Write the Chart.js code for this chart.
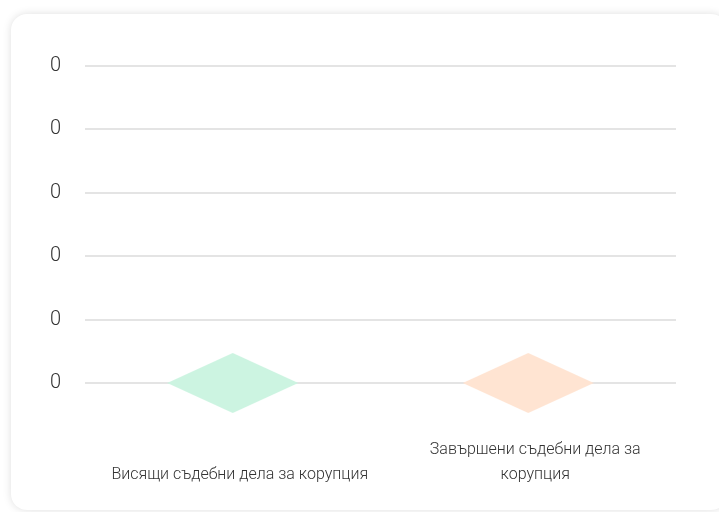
<!DOCTYPE html>
<html>
<head>
<meta charset="utf-8">
<script src="https://cdn.jsdelivr.net/npm/chart.js@4"></script>
<style>
  html, body { margin: 0; padding: 0; background: #fff; }
  body { width: 719px; height: 512px; position: relative; overflow: hidden; font-family: Roboto, sans-serif; }
  .card {
    position: absolute; left: 11px; top: 14px; width: 716px; height: 496px;
    border-radius: 16px; background: #fff;
    box-shadow: 0 0 8px rgba(0, 0, 0, 0.13);
  }
  #wrap { position: absolute; left: 0; top: 0; width: 719px; height: 512px; }
</style>
</head>
<body>
<div class="card"></div>
<div id="wrap"><canvas id="chart"></canvas></div>
<script>
const categories = ["Висящи съдебни дела за корупция", ["Завършени съдебни дела за", "корупция"]];
const values = [0, 0];
const yTickLabels = ["0", "0", "0", "0", "0", "0"];
const pointColors = ["#ccf4e1", "#ffe4d2"];

// stretched diamond used as point marker
function makeDiamond(color) {
  const c = document.createElement("canvas");
  c.width = 131;
  c.height = 60;
  const g = c.getContext("2d");
  g.fillStyle = color;
  g.beginPath();
  g.moveTo(65.5, 0);
  g.lineTo(131, 30);
  g.lineTo(65.5, 60);
  g.lineTo(0, 30);
  g.closePath();
  g.fill();
  return c;
}

const ctx = document.getElementById("chart").getContext("2d");

new Chart(ctx, {
  type: "line",
  data: {
    labels: categories,
    datasets: [{
      data: values,
      showLine: false,
      clip: false,
      pointStyle: pointColors.map(makeDiamond),
      pointRadius: 30,
      pointHoverRadius: 30
    }]
  },
  options: {
    responsive: true,
    maintainAspectRatio: false,
    animation: false,
    layout: { padding: { left: 50, right: 43, top: 66, bottom: 0 } },
    plugins: { legend: { display: false }, tooltip: { enabled: false } },
    scales: {
      x: {
        offset: true,
        grid: { display: false },
        border: { display: false },
        ticks: {
          color: "#333",
          font: { family: "Roboto", size: 16, weight: 300, lineHeight: 1.56 },
          padding: 59,
          labelOffset: 7,
          maxRotation: 0,
          autoSkip: false,
          crossAlign: "far"
        },
        afterFit: s => {
          s.height = 129;
          s.paddingLeft = 0;
          s.paddingRight = 0;
        }
      },
      y: {
        min: 0,
        max: 1,
        grid: { color: "#e4e4e4", lineWidth: 2, drawTicks: false },
        border: { display: false },
        ticks: {
          stepSize: 0.2,
          color: "#333",
          font: { family: "Roboto", size: 20, weight: 300 },
          padding: 24,
          callback: (v, i) => yTickLabels[i]
        },
        afterFit: s => {
          s.width = 35;
        }
      }
    }
  }
});
</script>
</body>
</html>
